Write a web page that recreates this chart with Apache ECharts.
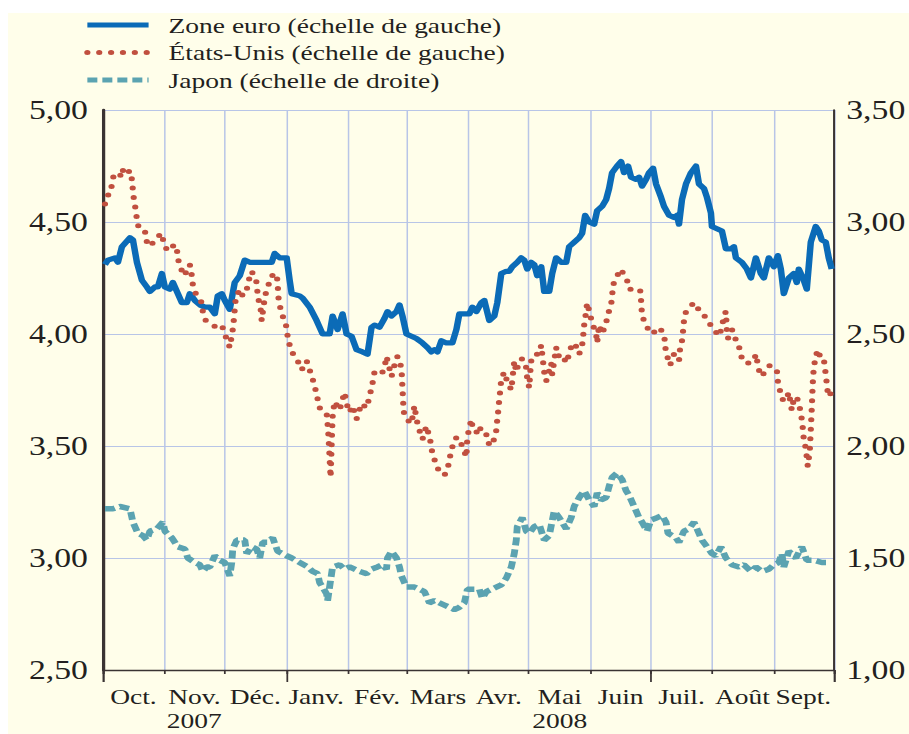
<!DOCTYPE html>
<html>
<head>
<meta charset="utf-8">
<script src="https://cdn.jsdelivr.net/npm/echarts@6/dist/echarts.min.js"></script>
<style>
    html, body { margin: 0; padding: 0; background: #fff; width: 909px; height: 734px; overflow: hidden; }
    /* the source picture is stretched sideways, so the chart is drawn narrower and widened */
    #main { position: absolute; left: 8px; top: 13px; width: 721px; height: 721px; background: #fffeea;
            transform: scaleX(1.2497); transform-origin: 0 0; }
</style>
</head>
<body>
<div id="main"></div>
<script>
// days counted from 1 Oct 2007, rates in %
let euro = [[1,4.31],[2.5,4.33],[6,4.34],[7.5,4.32],[9.5,4.39],[13.5,4.43],[15,4.42],[17,4.32],[19.5,4.24],[22,4.21],[23.5,4.19],[26,4.21],[27.5,4.21],[29.5,4.27],[31,4.21],[33.5,4.20],[35,4.23],[37.5,4.18],[39.5,4.14],[42,4.14],[43.5,4.18],[46,4.15],[48.5,4.13],[51,4.12],[53.5,4.12],[56,4.09],[57.5,4.17],[59.5,4.18],[61,4.15],[63.5,4.11],[66,4.23],[68.5,4.26],[71,4.33],[73.5,4.32],[77,4.32],[78.5,4.32],[82,4.32],[84.5,4.32],[86,4.36],[88.5,4.34],[92,4.34],[93.5,4.24],[94.5,4.18],[98.5,4.17],[100,4.16],[103.5,4.12],[107,4.06],[110,4.00],[113.5,4.00],[115,4.08],[117.5,4.02],[120,4.09],[122,4.00],[124.5,3.99],[127,3.93],[130,3.92],[132.5,3.91],[134.5,4.03],[136,4.04],[138.5,4.03],[141,4.07],[142.5,4.10],[144.5,4.08],[147,4.10],[148.5,4.13],[150,4.08],[152,4.00],[154.5,3.99],[157,3.98],[160,3.96],[162.5,3.94],[164.5,3.92],[166,3.93],[167.5,3.92],[169.5,3.97],[172,3.96],[175,3.96],[177,4.02],[178.5,4.09],[181,4.09],[183.5,4.09],[185,4.12],[187,4.10],[189.5,4.14],[191,4.15],[193.5,4.06],[196,4.08],[197.5,4.14],[199.5,4.27],[202,4.28],[203.5,4.28],[205,4.30],[207.5,4.32],[209.5,4.34],[211,4.33],[212.5,4.29],[214.5,4.32],[216,4.31],[217.5,4.26],[219.5,4.30],[221,4.19],[223.5,4.19],[225,4.27],[227,4.34],[229.5,4.32],[232,4.32],[233.5,4.39],[236,4.41],[238.5,4.43],[240,4.45],[241.5,4.53],[243.5,4.50],[246,4.49],[247.5,4.55],[250,4.57],[252,4.60],[253.5,4.65],[255,4.72],[257.5,4.75],[259.5,4.77],[261,4.72],[263,4.75],[264.5,4.70],[267,4.69],[268.5,4.70],[270,4.66],[272,4.69],[273.5,4.72],[275.5,4.74],[277,4.67],[279.5,4.61],[281,4.57],[283.5,4.53],[286,4.52],[287.5,4.53],[288.5,4.49],[290,4.60],[292,4.67],[294.5,4.72],[297,4.75],[298.5,4.67],[301,4.65],[302.5,4.61],[304.5,4.54],[305,4.48],[307.5,4.47],[310,4.46],[312,4.38],[314.5,4.38],[316,4.39],[317,4.34],[320,4.32],[322.5,4.29],[324.5,4.25],[327,4.34],[329.5,4.27],[331,4.25],[333.5,4.34],[336,4.30],[338,4.35],[339.5,4.29],[341,4.18],[343.5,4.25],[346,4.27],[347.5,4.23],[348.5,4.29],[351,4.24],[352.5,4.20],[354.5,4.41],[357,4.48],[358.5,4.46],[360,4.42],[362,4.41],[363.5,4.34],[365,4.29]];

let us = [[1,4.58],[2.5,4.62],[4,4.63],[4.5,4.68],[5.5,4.71],[8.5,4.70],[9.5,4.74],[11,4.71],[13.5,4.73],[14.5,4.69],[15,4.64],[15.5,4.60],[16.5,4.55],[17,4.51],[18,4.47],[21,4.46],[22,4.41],[23.5,4.39],[27,4.43],[29.5,4.45],[30.5,4.40],[32.5,4.37],[36,4.40],[37,4.38],[37.5,4.34],[38.5,4.30],[41,4.26],[42,4.29],[43.5,4.31],[44.5,4.26],[45,4.22],[46.5,4.18],[49.5,4.14],[50,4.10],[51.5,4.06],[54.5,4.04],[57,4.03],[59.5,4.04],[61,4.00],[63.5,3.94],[65,4.02],[65.5,4.06],[66,4.11],[66.5,4.16],[68.5,4.20],[70,4.17],[72.5,4.21],[73.5,4.26],[74.5,4.28],[77,4.23],[77.5,4.17],[79,4.11],[79.5,4.06],[80.5,4.13],[81.5,4.18],[82.5,4.21],[84.5,4.26],[87,4.27],[87.5,4.22],[88,4.15],[89.5,4.09],[91.5,4.05],[92.5,3.99],[93.5,3.95],[94.5,3.92],[97,3.89],[99.5,3.84],[102,3.88],[105,3.80],[106.5,3.75],[107.5,3.71],[108.5,3.67],[112,3.65],[112.5,3.60],[113,3.54],[113.5,3.45],[114,3.36],[114.5,3.50],[115,3.63],[116,3.70],[118.5,3.66],[121,3.74],[122,3.69],[123.5,3.65],[125,3.68],[127,3.62],[129.5,3.69],[132,3.67],[133.5,3.72],[135,3.78],[136,3.83],[139.5,3.82],[141,3.85],[142,3.90],[144.5,3.81],[146,3.86],[147.5,3.90],[149.5,3.85],[150,3.76],[150.5,3.67],[151,3.63],[154.5,3.60],[156,3.68],[157,3.62],[158.5,3.57],[160,3.53],[162,3.59],[163.5,3.54],[164.5,3.50],[165,3.46],[167,3.42],[168.5,3.38],[171,3.37],[172.5,3.39],[173.5,3.44],[174.5,3.48],[176,3.53],[177.5,3.54],[180,3.50],[182,3.45],[182.5,3.54],[183.5,3.58],[184.5,3.62],[185,3.59],[187,3.56],[188.5,3.59],[190,3.55],[192.5,3.55],[193.5,3.50],[196,3.53],[197,3.57],[197.5,3.62],[198,3.66],[198.5,3.71],[199,3.75],[199.5,3.80],[201,3.83],[202,3.80],[203.5,3.77],[204.5,3.75],[206,3.88],[207,3.83],[208.5,3.88],[210,3.89],[212,3.85],[212.5,3.80],[213.5,3.76],[214,3.83],[214.5,3.88],[216,3.91],[218.5,3.91],[219.5,3.95],[221,3.83],[222,3.79],[224.5,3.87],[225,3.82],[227,3.94],[227.5,3.90],[230,3.91],[232,3.87],[233.5,3.91],[235,3.96],[237.5,3.94],[238.5,3.91],[240,3.95],[240.5,3.99],[241,4.04],[242,4.10],[242.5,4.14],[245,4.05],[247,4.00],[247.5,3.96],[248.5,4.04],[250,4.00],[252,4.05],[253,4.09],[254.5,4.13],[255,4.17],[255.5,4.22],[257.5,4.26],[259.5,4.29],[261,4.26],[262.5,4.24],[263.5,4.20],[267,4.20],[269,4.20],[269.5,4.15],[270,4.08],[272.5,4.03],[275,4.00],[278.5,4.03],[281,4.00],[281.5,3.96],[282,3.91],[283.5,3.88],[284,3.86],[286,3.91],[288.5,3.88],[289,3.93],[290,3.97],[290.5,4.01],[291,4.06],[292,4.10],[296,4.14],[297,4.12],[298.5,4.11],[301,4.09],[302,4.06],[304.5,4.04],[306,4.02],[308.5,3.99],[310,4.03],[311,4.08],[312,4.10],[312.5,4.01],[313,3.98],[315,4.02],[316.5,3.99],[317.5,3.95],[319.5,3.93],[320,3.88],[323.5,3.87],[326,3.88],[327,3.91],[328.5,3.84],[330,3.81],[332,3.84],[334,3.86],[337.5,3.84],[338,3.79],[339,3.75],[340,3.71],[342,3.70],[343.5,3.74],[345,3.66],[346,3.71],[347.5,3.72],[349,3.67],[350,3.62],[350.5,3.58],[351,3.53],[352,3.49],[352.5,3.45],[353,3.41],[354,3.48],[354.5,3.57],[355,3.67],[355.5,3.78],[356,3.85],[357,3.90],[358,3.93],[359.5,3.89],[361,3.89],[362,3.82],[363,3.74],[364,3.72],[365,3.76]];

let japan = [[1,1.72],[5,1.72],[8.5,1.73],[13.5,1.72],[15,1.66],[17.5,1.61],[20,1.60],[22,1.58],[23.5,1.62],[27,1.63],[30,1.66],[31,1.62],[34.5,1.59],[37.5,1.55],[41,1.54],[42.5,1.50],[46,1.48],[48.5,1.47],[50,1.44],[52,1.46],[53.5,1.46],[56,1.51],[58.5,1.49],[61,1.48],[63.5,1.42],[64.5,1.48],[65,1.54],[67,1.58],[71,1.58],[72,1.52],[74.5,1.55],[77,1.54],[78.5,1.50],[80,1.57],[82.5,1.57],[85,1.59],[87.5,1.53],[92,1.51],[94.5,1.50],[98.5,1.48],[102.5,1.46],[105,1.44],[107.5,1.43],[108.5,1.39],[110,1.37],[112,1.34],[112.5,1.31],[113.5,1.37],[115,1.46],[118.5,1.47],[121,1.45],[123.5,1.46],[126,1.45],[128.5,1.44],[132,1.43],[134.5,1.45],[137.5,1.46],[140,1.47],[142,1.45],[142.5,1.50],[144.5,1.53],[147,1.50],[148.5,1.46],[149.5,1.42],[152,1.37],[156,1.37],[161,1.35],[163.5,1.30],[166,1.31],[168.5,1.30],[171,1.29],[173.5,1.28],[176,1.27],[178.5,1.28],[181,1.30],[182.5,1.36],[185,1.36],[188.5,1.36],[190,1.32],[192,1.35],[194.5,1.36],[197,1.37],[199.5,1.38],[202,1.41],[204.5,1.46],[206,1.52],[207,1.58],[207.5,1.64],[210,1.68],[212,1.62],[213.5,1.61],[216,1.64],[218.5,1.65],[221,1.58],[223.5,1.60],[226,1.71],[228.5,1.68],[232,1.63],[234.5,1.68],[236,1.73],[238.5,1.77],[241,1.80],[243.5,1.76],[246,1.73],[247.5,1.79],[249.5,1.76],[252,1.77],[253.5,1.82],[255,1.86],[257.5,1.88],[260,1.85],[262,1.80],[263.5,1.78],[266,1.73],[268.5,1.68],[270,1.66],[272.5,1.62],[274.5,1.67],[277.5,1.68],[280,1.69],[282,1.66],[283,1.61],[287,1.59],[288.5,1.57],[291,1.62],[293.5,1.63],[296,1.66],[297.5,1.63],[300,1.58],[302.5,1.55],[305,1.52],[307,1.51],[309.5,1.55],[312,1.50],[315,1.47],[318.5,1.46],[321,1.47],[324.5,1.44],[327,1.46],[330,1.44],[333.5,1.45],[336,1.47],[338.5,1.48],[340,1.52],[341,1.46],[343.5,1.53],[347,1.50],[350,1.55],[352.5,1.49],[356,1.49],[360,1.48],[363.5,1.48]];

let monthLabels = ['Oct.', 'Nov.\n2007', 'Déc.', 'Janv.', 'Fév.', 'Mars', 'Avr.', 'Mai\n2008', 'Juin', 'Juil.', 'Août', 'Sept.'];
let longTickMonths = [[2007, 9], [2008, 0], [2008, 6], [2008, 9]];
let seriesNames = ['Zone euro (échelle de gauche)', 'États-Unis (échelle de gauche)', 'Japon (échelle de droite)'];

const DAY = 86400000;
const start = new Date(2007, 9, 1).getTime();
const end = new Date(2008, 9, 1).getTime();
const ink = '#231f20';
const axisInk = '#3a3333';
const grid = '#b8c5e7';
const serif = 'Liberation Serif';

function toTime(list) {
    return list.map(function(p) { return [start + p[0] * DAY, p[1]]; });
}

function comma(v) {
    return v.toFixed(2).replace('.', ',');
}

let chart = echarts.init(document.getElementById('main'), null, {renderer: 'svg'});
chart.setOption({
    animation: false,
    grid: {left: 76, right: 58, top: 97, bottom: 64},
    legend: {
        orient: 'vertical', left: 56, top: -4,
        itemWidth: 49, itemHeight: 14, itemGap: 5.5,
        data: seriesNames,
        itemStyle: {opacity: 0},
        lineStyle: {width: 5},
        textStyle: {fontFamily: serif, fontSize: 22, lineHeight: 22, color: ink, padding: [0, 0, 0, 11]}
    },
    xAxis: [{
        type: 'time', position: 'bottom', min: start, max: end,
        minInterval: 28 * DAY, maxInterval: 31 * DAY,
        axisLine: {show: true, onZero: false, lineStyle: {color: axisInk, width: 1.4}},
        axisTick: {show: true, length: 4, lineStyle: {color: axisInk, width: 1.4}},
        axisLabel: {show: false},
        splitLine: {show: true, lineStyle: {color: grid, width: 1.2}}
    }, {
        type: 'category', position: 'bottom', data: monthLabels, boundaryGap: true,
        axisLine: {show: false}, axisTick: {show: false}, splitLine: {show: false},
        axisLabel: {interval: 0, margin: 14, fontFamily: serif, fontSize: 22, lineHeight: 24, color: ink}
    }, {
        type: 'time', position: 'bottom', min: start, max: end,
        axisLine: {show: false},
        axisTick: {show: true, length: 12, lineStyle: {color: axisInk, width: 1.4},
            customValues: longTickMonths.map(function(m) { return new Date(m[0], m[1], 1).getTime(); })},
        axisLabel: {show: false},
        splitLine: {show: false}
    }],
    yAxis: [{
        type: 'value', position: 'left', min: 2.5, max: 5, interval: 0.5,
        axisLine: {show: true, lineStyle: {color: axisInk, width: 2.6}},
        axisTick: {show: false},
        axisLabel: {margin: 12, formatter: comma, fontFamily: serif, fontSize: 27, color: ink},
        splitLine: {show: true, lineStyle: {color: grid, width: 1.2}}
    }, {
        type: 'value', position: 'right', min: 1, max: 3.5, interval: 0.5,
        axisLine: {show: true, lineStyle: {color: axisInk, width: 1.6}},
        axisTick: {show: false},
        axisLabel: {margin: 10, formatter: comma, fontFamily: serif, fontSize: 27, color: ink},
        splitLine: {show: false}
    }],
    series: [{
        name: seriesNames[0], type: 'line', data: toTime(euro), symbol: 'none',
        itemStyle: {color: '#0b6bb7'},
        lineStyle: {color: '#0b6bb7', width: 5.2, join: 'round'}
    }, {
        name: seriesNames[1], type: 'line', data: toTime(us), symbol: 'none',
        itemStyle: {color: '#c1503f'},
        lineStyle: {color: '#c1503f', width: 5, type: [0, 9.5], cap: 'round'}
    }, {
        name: seriesNames[2], type: 'line', yAxisIndex: 1, data: toTime(japan), symbol: 'none',
        itemStyle: {color: '#5ba3b1'},
        lineStyle: {color: '#5ba3b1', width: 5.5, type: [8, 4], cap: 'butt'}
    }]
});
</script>
</body>
</html>
